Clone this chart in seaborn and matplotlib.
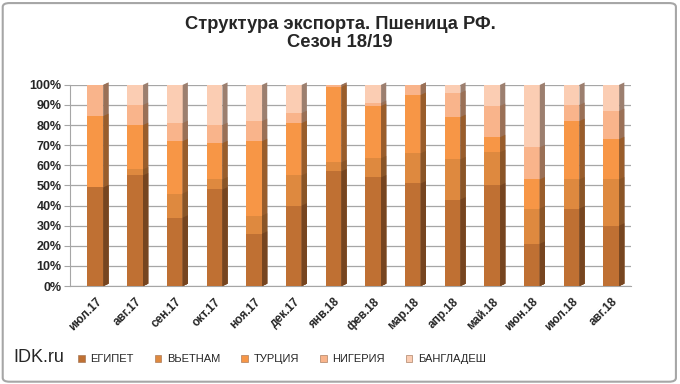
import numpy as np
import pandas as pd
import matplotlib
matplotlib.use("Agg")
import matplotlib.pyplot as plt
import seaborn as sns
from matplotlib.patches import FancyBboxPatch, Patch, Polygon
from matplotlib.colors import to_rgb

# Данные (доли, %)
months = ["июл.17", "авг.17", "сен.17", "окт.17", "ноя.17", "дек.17", "янв.18",
          "фев.18", "мар.18", "апр.18", "май.18", "июн.18", "июл.18", "авг.18"]
egypt = [49, 55, 34, 48, 26, 40, 57, 54, 51, 43, 50, 21, 38.5, 30]
vietnam = [0, 3, 12, 5, 9, 15, 4.5, 9.5, 15, 20, 16.5, 17.5, 14.5, 23]
turkey = [35.5, 22, 26, 18, 37, 26, 37.5, 26, 29, 21, 7.5, 14.5, 29, 20]
nigeria = [15.5, 10, 9, 9, 10, 5, 1, 1.5, 5, 12, 15.5, 16, 8, 14]
bangladesh = [0, 10, 19, 20, 18, 14, 0, 9, 0, 4, 10.5, 31, 10, 13]

countries = ["ЕГИПЕТ", "ВЬЕТНАМ", "ТУРЦИЯ", "НИГЕРИЯ", "БАНГЛАДЕШ"]
colors = ["#BF7033", "#DE893F", "#F79646", "#F9B48B", "#FBCDB3"]

df = pd.DataFrame({"month": months, "ЕГИПЕТ": egypt, "ВЬЕТНАМ": vietnam,
                   "ТУРЦИЯ": turkey, "НИГЕРИЯ": nigeria, "БАНГЛАДЕШ": bangladesh})
df[countries] = df[countries].div(df[countries].sum(axis=1), axis=0) * 100

sns.set_style("white")
plt.rcParams["font.family"] = ["Liberation Sans", "DejaVu Sans"]

fig = plt.figure(figsize=(6.8, 3.84), dpi=100)
ax = fig.add_axes([0.103, 0.255, 0.825, 0.524])

# Рамка вокруг рисунка
fig.patches.append(FancyBboxPatch((0.004, 0.006), 0.99, 0.986, boxstyle="round,pad=0,rounding_size=0.01",
                                  transform=fig.transFigure, fill=False, edgecolor="#A6A6A6", linewidth=1.5))

# Стек: рисуем накопленные суммы сверху вниз
cum = df[countries].cumsum(axis=1)
for name, col in reversed(list(zip(countries, colors))):
    sns.barplot(x=df["month"], y=cum[name], color=col, width=0.40, ax=ax,
                saturation=1, edgecolor="none", zorder=3)

# Псевдо-3D: тёмная боковая грань справа от каждого столбика
depth, rise = 0.13, 1.2
for p in list(ax.patches):
    x0, y0 = p.get_x(), p.get_y()
    w, h = p.get_width(), p.get_height()
    if h <= 0:
        continue
    dark = tuple(c * 0.62 for c in to_rgb(p.get_facecolor()))
    side = Polygon([(x0 + w, y0), (x0 + w + depth, y0 + rise), (x0 + w + depth, y0 + h + rise),
                    (x0 + w, y0 + h)], closed=True, facecolor=dark, edgecolor="none",
                   zorder=3, clip_on=False)
    ax.add_patch(side)

ax.set_ylim(0, 100)
ax.set_xlim(-0.64, 13.5)
ax.set_yticks(np.arange(0, 101, 10))
ax.set_yticklabels([f"{v}%" for v in range(0, 101, 10)], fontsize=9, fontweight="bold")
ax.yaxis.grid(True, color="#A6A6A6", linewidth=0.9, zorder=0)
ax.set_axisbelow(True)

ax.set_xticks(range(len(months)))
ax.set_xticklabels(months, rotation=45, ha="right", rotation_mode="anchor",
                   fontsize=8.5, fontweight="bold")
ax.set_xticks(np.arange(0.5, len(months) - 0.5, 1), minor=True)
ax.tick_params(axis="x", which="major", length=0, pad=7)
ax.tick_params(axis="x", which="minor", length=4, color="#A6A6A6")
ax.tick_params(axis="y", length=4, color="#A6A6A6", left=True, pad=2)
ax.set_xlabel("")
ax.set_ylabel("")

for s in ["top", "right"]:
    ax.spines[s].set_visible(False)
ax.spines["left"].set_color("#A6A6A6")
ax.spines["bottom"].set_color("#A6A6A6")

fig.text(0.5, 0.958, "Структура экспорта. Пшеница РФ.\nСезон 18/19", ha="center", va="top",
         fontsize=13.2, fontweight="bold", linespacing=1.05)

fig.text(0.02, 0.07, "IDK.ru", fontsize=13, ha="left", va="center")

handles = [Patch(facecolor=c, edgecolor="#9A6A4A", linewidth=0.4) for c in colors]
fig.legend(handles, countries, loc="center left", bbox_to_anchor=(0.108, 0.065), ncol=5, frameon=False,
           fontsize=8, handlelength=0.6, handleheight=0.6,
           columnspacing=1.9, handletextpad=0.5, borderaxespad=0)

fig.savefig("out.png", dpi=100)
